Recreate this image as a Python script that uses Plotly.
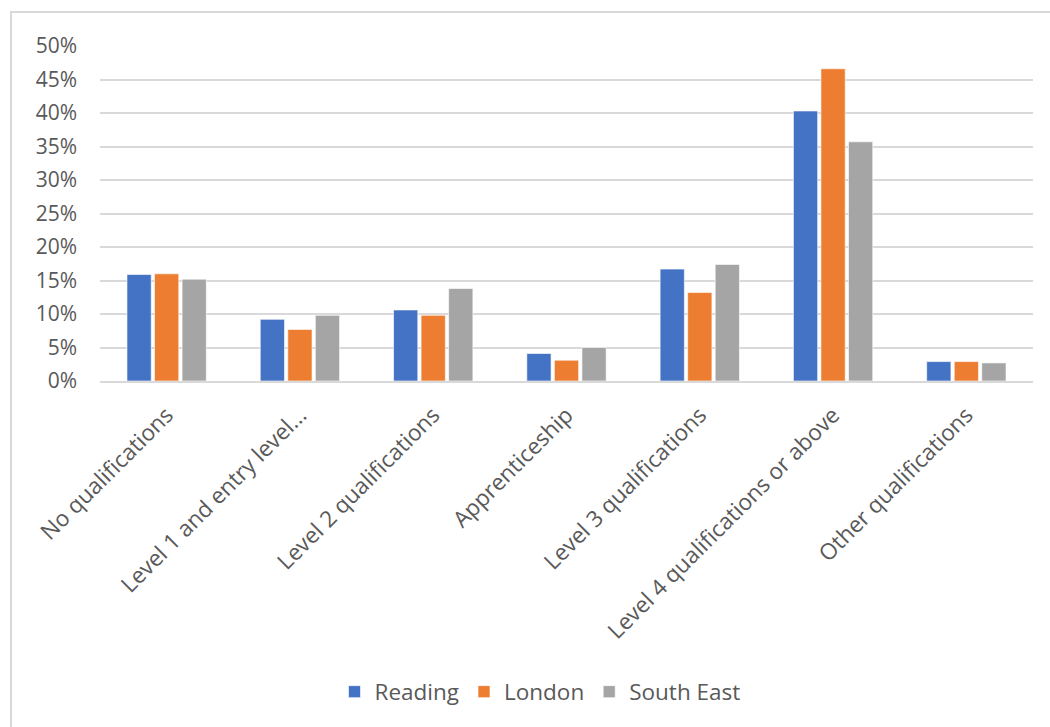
import plotly.graph_objects as go

categories = ["No qualifications", "Level 1 and entry level...", "Level 2 qualifications",
              "Apprenticeship", "Level 3 qualifications", "Level 4 qualifications or above",
              "Other qualifications"]
reading = [0.159, 0.092, 0.106, 0.041, 0.167, 0.403, 0.029]
london = [0.160, 0.077, 0.098, 0.031, 0.132, 0.466, 0.029]
south_east = [0.152, 0.098, 0.138, 0.050, 0.174, 0.357, 0.027]

series = [("Reading", reading, "#4472C4"), ("London", london, "#ED7D31"),
          ("South East", south_east, "#A5A5A5")]

FONT = "Open Sans"
TXT = "#595959"

fig = go.Figure()
for name, vals, col in series:
    fig.add_trace(go.Bar(x=categories, y=vals, name=name,
                         marker=dict(color=col, line=dict(color="rgba(255,255,255,0.6)", width=1))))

L, R, T, B = 100, 17, 46, 346
W, H = 1050, 727
pw, ph = W - L - R, H - T - B

def px_x(x):
    return (x - L) / pw

def px_y(y):
    return (H - B - y) / ph

fig.update_layout(
    width=W, height=H,
    margin=dict(l=L, r=R, t=T, b=B, pad=0),
    paper_bgcolor="white", plot_bgcolor="white",
    barmode="group", bargap=0.38, bargroupgap=0.12,
    font=dict(family=FONT, color=TXT, size=21),
    showlegend=True,
    legend=dict(orientation="h", x=px_x(540), xanchor="center", y=px_y(692), yanchor="middle",
                font=dict(family=FONT, size=22.5, color=TXT), itemwidth=30, traceorder="normal"),
    xaxis=dict(tickangle=-45, tickfont=dict(family=FONT, size=22.5, color=TXT),
               showgrid=False, showline=True, linecolor="#d9d9d9", linewidth=2, ticks="",
               ticklabelstandoff=10),
    yaxis=dict(range=[0, 0.5], dtick=0.05, tickformat=".0%",
               tickfont=dict(family=FONT, size=21, color=TXT),
               showgrid=True, gridcolor="#d9d9d9", gridwidth=2, zeroline=False,
               ticks="", ticklabelstandoff=22),
    shapes=[dict(type="rect", xref="paper", yref="paper",
                 x0=px_x(11), x1=px_x(1100), y0=px_y(760), y1=px_y(12),
                 line=dict(color="#d9d9d9", width=2), fillcolor="rgba(0,0,0,0)", layer="below")],
)

fig.write_html("out.html")
